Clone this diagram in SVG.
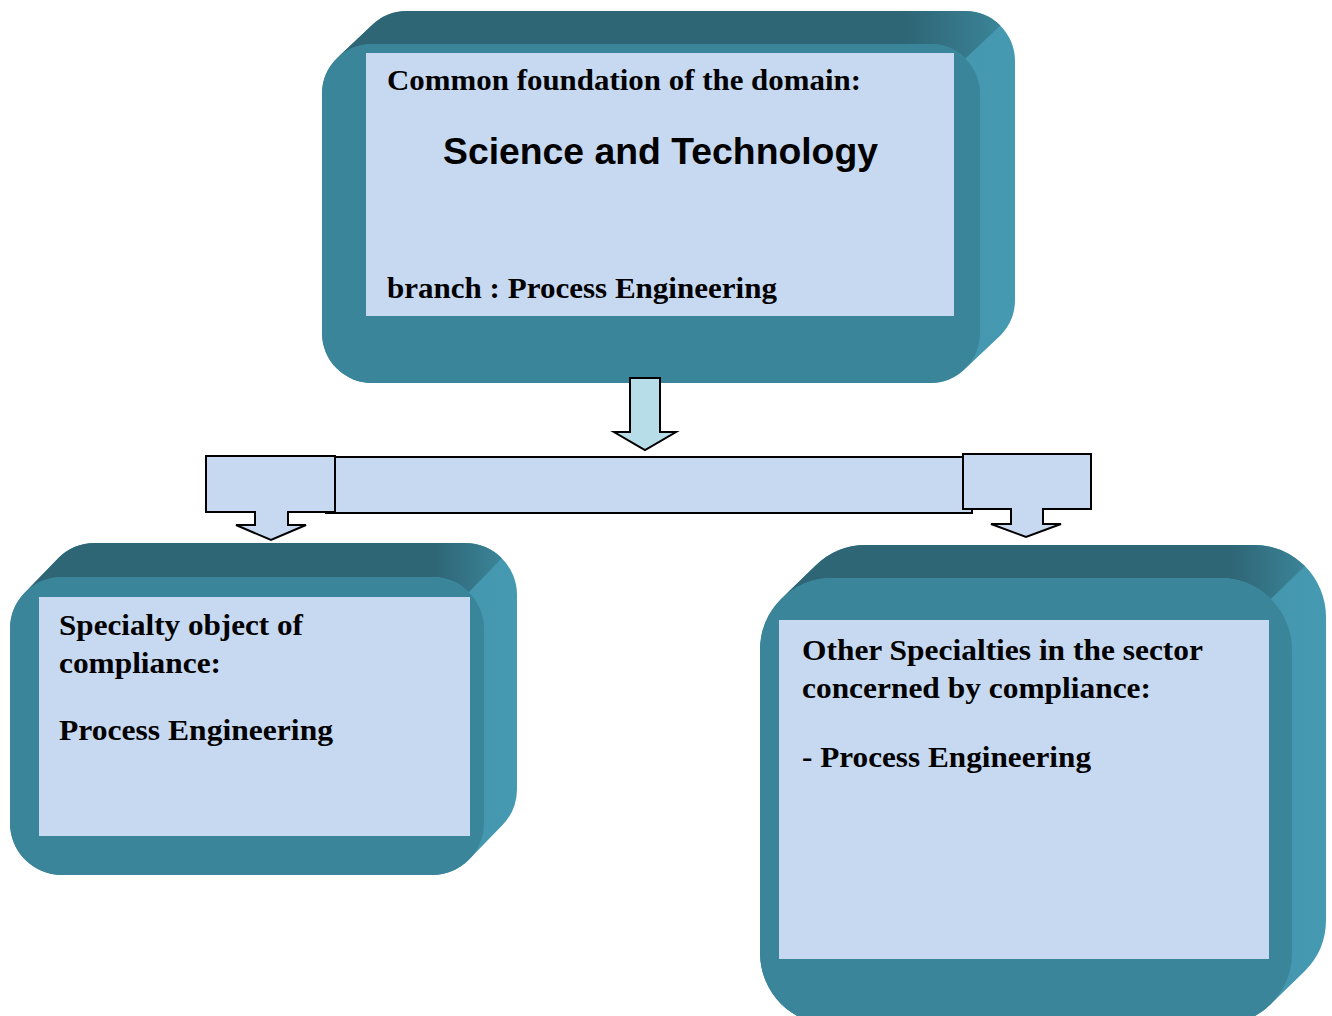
<svg xmlns="http://www.w3.org/2000/svg" width="1332" height="1016" viewBox="0 0 1332 1016">
  <defs>
    <linearGradient id="sideGrad" x1="0" y1="0" x2="1" y2="0">
      <stop offset="0" stop-color="#3A8599"/>
      <stop offset="1" stop-color="#4599B1"/>
    </linearGradient>
    <linearGradient id="topGrad" x1="0" y1="0" x2="1" y2="0">
      <stop offset="0" stop-color="#2E6676"/>
      <stop offset="0.86" stop-color="#2E6676"/>
      <stop offset="1" stop-color="#3B8498"/>
    </linearGradient>
    <style>
      .side { fill: url(#sideGrad); }
      .topf { fill: url(#topGrad); }
      .front { fill: #3A8599; }
      .inner { fill: #C6D9F0; }
      .t { font-family: "Liberation Serif", "Times New Roman", serif; font-weight: bold; font-size: 29px; fill: #000; }
      .big { font-family: "Liberation Sans", Arial, sans-serif; font-weight: bold; font-size: 37px; fill: #000; }
      .conn { fill: #C6D9F0; stroke: #000; stroke-width: 2; stroke-linejoin: miter; }
      .down { fill: #B7DEE8; stroke: #000; stroke-width: 2; }
    </style>
  </defs>
  <rect width="1332" height="1016" fill="#FFFFFF"/>

  <g id="node-top">
    <path class="side" d="M336.6,58.6 L371.6,25.6 A50,50 0 0 1 407,11 H965 A50,50 0 0 1 1015,61 V300 A50,50 0 0 1 1000.4,335.4 L965.4,368.4 A50,50 0 0 1 930,383 H372 A50,50 0 0 1 322,333 V94 A50,50 0 0 1 336.6,58.6 Z"/>
    <path class="topf" d="M336.6,58.6 L371.6,25.6 A50,50 0 0 1 407,11 H965 A50,50 0 0 1 1000.4,25.6 L965.4,58.6 A50,50 0 0 0 930,44 H372 A50,50 0 0 0 336.6,58.6 Z"/>
    <rect class="front" x="322" y="44" width="658" height="339" rx="50"/>
    <rect class="inner" x="366" y="53" width="588" height="263"/>
    <text class="t" x="387" y="90" textLength="474" lengthAdjust="spacingAndGlyphs">Common foundation of the domain:</text>
    <text class="big" x="443" y="164" textLength="435" lengthAdjust="spacingAndGlyphs">Science and Technology</text>
    <text class="t" x="387" y="298" textLength="390" lengthAdjust="spacingAndGlyphs">branch : Process Engineering</text>
  </g>

  <g id="node-left">
    <path class="side" d="M25.2,592.2 L58.2,558.2 A52,52 0 0 1 95,543 H465 A52,52 0 0 1 517,595 V789 A52,52 0 0 1 501.8,825.8 L468.8,859.8 A52,52 0 0 1 432,875 H62 A52,52 0 0 1 10,823 V629 A52,52 0 0 1 25.2,592.2 Z"/>
    <path class="topf" d="M25.2,592.2 L58.2,558.2 A52,52 0 0 1 95,543 H465 A52,52 0 0 1 501.8,558.2 L468.8,592.2 A52,52 0 0 0 432,577 H62 A52,52 0 0 0 25.2,592.2 Z"/>
    <rect class="front" x="10" y="577" width="474" height="298" rx="52"/>
    <rect class="inner" x="39" y="597" width="431" height="239"/>
    <text class="t" x="59" y="635" textLength="244" lengthAdjust="spacingAndGlyphs">Specialty object of</text>
    <text class="t" x="59" y="673" textLength="162" lengthAdjust="spacingAndGlyphs">compliance:</text>
    <text class="t" x="59" y="740" textLength="274" lengthAdjust="spacingAndGlyphs">Process Engineering</text>
  </g>

  <g id="node-right">
    <path class="side" d="M781.1,599.1 L815.1,566.1 A72,72 0 0 1 866,545 H1254 A72,72 0 0 1 1326,617 V920 A72,72 0 0 1 1304.9,970.9 L1270.9,1003.9 A72,72 0 0 1 1220,1025 H832 A72,72 0 0 1 760,953 V650 A72,72 0 0 1 781.1,599.1 Z"/>
    <path class="topf" d="M781.1,599.1 L815.1,566.1 A72,72 0 0 1 866,545 H1254 A72,72 0 0 1 1304.9,566.1 L1270.9,599.1 A72,72 0 0 0 1220,578 H832 A72,72 0 0 0 781.1,599.1 Z"/>
    <rect class="front" x="760" y="578" width="532" height="447" rx="72"/>
    <rect class="inner" x="779" y="620" width="490" height="339"/>
    <text class="t" x="802" y="660" textLength="401" lengthAdjust="spacingAndGlyphs">Other Specialties in the sector</text>
    <text class="t" x="802" y="698" textLength="349" lengthAdjust="spacingAndGlyphs">concerned by compliance:</text>
    <text class="t" x="802" y="767" textLength="289" lengthAdjust="spacingAndGlyphs">- Process Engineering</text>
  </g>

  <g id="connectors">
    <path class="down" d="M630,378 H660 V432 H676 L645,450 L614,432 H630 Z"/>
    <rect class="conn" x="326" y="457" width="646" height="56"/>
    <path class="conn" d="M206,456 H335 V512 H288 V525 H306 L271,540 L236,525 H255 V512 H206 Z"/>
    <path class="conn" d="M963,454 H1091 V509 H1043 V524 H1061 L1026,537 L991,524 H1011 V509 H963 Z"/>
  </g>
</svg>
